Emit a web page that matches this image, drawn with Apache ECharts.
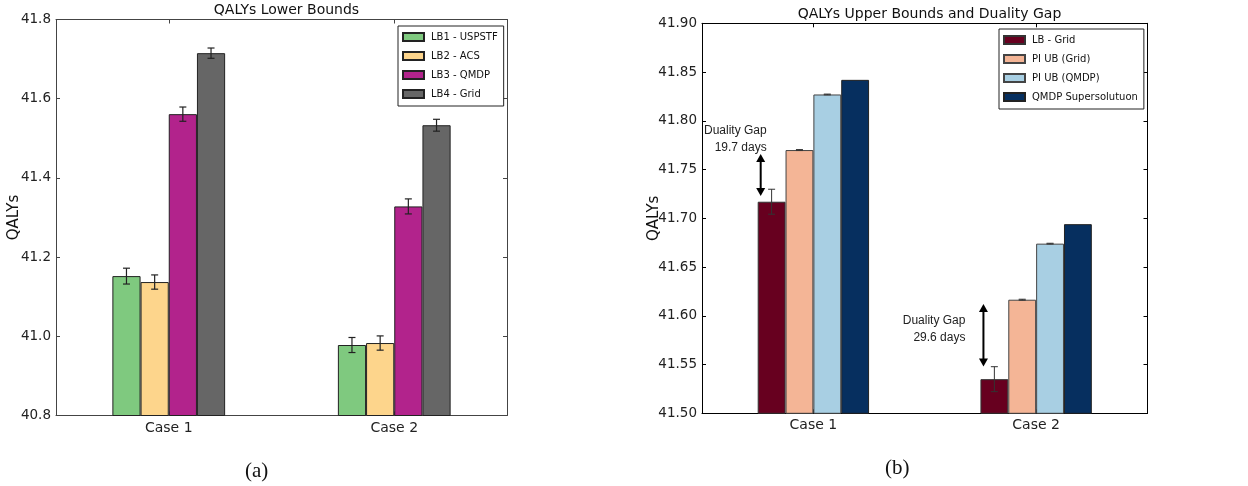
<!DOCTYPE html>
<html>
<head>
<meta charset="utf-8">
<title>QALYs bounds</title>
<script src="https://cdn.jsdelivr.net/npm/echarts@6/dist/echarts.min.js"></script>
<style>
  html, body { margin: 0; padding: 0; background: #fff; }
  #chart { width: 1248px; height: 486px; }
</style>
</head>
<body>
<div id="chart"></div>
<script>
// categories
const cases = ['Case 1', 'Case 2']

// (a) lower bounds, with error bar half-widths
const lbNames = ['LB1 - USPSTF', 'LB2 - ACS', 'LB3 - QMDP', 'LB4 - Grid']
const lb1 = [41.152, 40.978]
const lb1Err = [0.020, 0.019]
const lb2 = [41.137, 40.983]
const lb2Err = [0.018, 0.018]
const lb3 = [41.561, 41.328]
const lb3Err = [0.018, 0.019]
const lb4 = [41.715, 41.533]
const lb4Err = [0.013, 0.015]

// (b) upper bounds
const ubNames = ['LB - Grid', 'PI UB (Grid)', 'PI UB (QMDP)', 'QMDP Supersolutuon']
const lbGrid = [41.717, 41.535]
const lbGridErr = [0.0128, 0.0128]
const piGrid = [41.770, 41.6165]
const piGridErr = [0.0005, 0.0005]
const piQmdp = [41.827, 41.674]
const piQmdpErr = [0.0004, 0.0004]
const qmdpSuper = [41.842, 41.694]

// duality gap annotations
const gapLow = [41.723, 41.548]
const gapHigh = [41.766, 41.612]
const gapTextAt = [41.782, 41.587]
const gapText = ['Duality Gap\n19.7 days', 'Duality Gap\n29.6 days']

// axis ticks
const lbTicks = { min: 40.8, max: 41.8, interval: 0.2 }
const ubTicks = { min: 41.5, max: 41.9, interval: 0.05 }

const chartInstance = echarts.init(document.getElementById('chart'), null, { renderer: 'canvas' })

const tickFont = { fontFamily: 'DejaVu Sans', fontSize: 13.5, color: '#222' }

// 4 bars per group, no gap, half of the band
function slotX (api, cat, slot) {
  const band = api.size([1, 0])[0]
  const bw = band * 0.5 / 4
  return api.coord([cat, 0])[0] + (slot - 1.5) * bw
}

function errorBars (slot, values, errs, xi, yi, color, width) {
  return {
    type: 'custom',
    xAxisIndex: xi,
    yAxisIndex: yi,
    z: 5,
    silent: true,
    data: values.map((v, i) => [i, v, errs[i]]),
    renderItem (params, api) {
      const c = api.value(0)
      const v = api.value(1)
      const e = api.value(2)
      const x = slotX(api, c, slot)
      const yt = api.coord([c, v + e])[1]
      const yb = api.coord([c, v - e])[1]
      const style = { stroke: color, lineWidth: width }
      return {
        type: 'group',
        children: [
          { type: 'line', shape: { x1: x, y1: yt, x2: x, y2: yb }, style },
          { type: 'line', shape: { x1: x - 3.5, y1: yt, x2: x + 3.5, y2: yt }, style },
          { type: 'line', shape: { x1: x - 3.5, y1: yb, x2: x + 3.5, y2: yb }, style }
        ]
      }
    }
  }
}

function bars (name, values, color, border, xi, yi) {
  return {
    name,
    type: 'bar',
    xAxisIndex: xi,
    yAxisIndex: yi,
    data: values,
    barGap: '0%',
    barCategoryGap: '50%',
    itemStyle: { color, borderColor: border, borderWidth: 1 },
    emphasis: { disabled: true }
  }
}

// double headed arrows plus the "Duality Gap" text
const gapSeries = {
  type: 'custom',
  xAxisIndex: 2,
  yAxisIndex: 2,
  z: 6,
  silent: true,
  data: cases.map((c, i) => [i, gapLow[i], gapHigh[i], gapTextAt[i]]),
  renderItem (params, api) {
    const c = api.value(0)
    const x = slotX(api, c, 0) - api.size([1, 0])[0] * 0.5 / 8 + 3
    const y1 = api.coord([c, api.value(1)])[1]
    const y2 = api.coord([c, api.value(2)])[1]
    const yt = api.coord([c, api.value(3)])[1]
    const hw = 4.5
    const hh = 8
    const textRight = params.dataIndex === 0 ? x + 6 : x - 18
    return {
      type: 'group',
      children: [
        { type: 'line', shape: { x1: x, y1: y2 + hh - 1, x2: x, y2: y1 - hh + 1 }, style: { stroke: '#000', lineWidth: 2 } },
        { type: 'polygon', shape: { points: [[x, y2], [x - hw, y2 + hh], [x + hw, y2 + hh]] }, style: { fill: '#000' } },
        { type: 'polygon', shape: { points: [[x, y1], [x - hw, y1 - hh], [x + hw, y1 - hh]] }, style: { fill: '#000' } },
        {
          type: 'text',
          x: textRight,
          y: yt + 1,
          style: {
            text: gapText[params.dataIndex],
            align: 'right',
            verticalAlign: 'middle',
            fontFamily: 'Liberation Sans',
            fontSize: 12,
            lineHeight: 17,
            fill: '#222'
          }
        }
      ]
    }
  }
}

function valueAxis (gridIndex, ticks, digits, position, lineColor, name, nameGap) {
  return {
    type: 'value',
    gridIndex,
    position,
    min: ticks.min,
    max: ticks.max,
    interval: ticks.interval,
    name: name || '',
    nameLocation: 'middle',
    nameGap,
    nameMoveOverlap: false,
    nameTextStyle: { fontFamily: 'DejaVu Sans', fontSize: 15, color: '#111' },
    axisLine: { show: true, lineStyle: { color: lineColor, width: 1 } },
    axisTick: { show: true, inside: true, length: 4, lineStyle: { color: lineColor } },
    axisLabel: {
      show: position === 'left',
      margin: 5,
      ...tickFont,
      formatter: (v) => v.toFixed(digits)
    },
    splitLine: { show: false }
  }
}

function catAxis (gridIndex, position, lineColor, margin) {
  return {
    type: 'category',
    gridIndex,
    position,
    data: cases,
    axisLine: { show: true, lineStyle: { color: lineColor, width: 1 } },
    axisTick: { show: true, inside: true, length: 4, alignWithLabel: true, lineStyle: { color: lineColor } },
    axisLabel: { show: position === 'bottom', margin, ...tickFont, fontSize: 14 }
  }
}

const legendBase = {
  orient: 'vertical',
  icon: 'rect',
  itemWidth: 21,
  itemHeight: 8,
  itemGap: 7,
  padding: [5, 6, 6, 4],
  borderColor: '#222',
  borderWidth: 1,
  backgroundColor: '#fff',
  selectedMode: false,
  textStyle: { fontFamily: 'DejaVu Sans', fontSize: 10, color: '#111', lineHeight: 12, padding: [0, 0, 0, 2] }
}

const titleFont = { fontFamily: 'DejaVu Sans', fontWeight: 'normal', fontSize: 14, color: '#111' }

const option = {
  animation: false,
  backgroundColor: '#fff',
  title: [
    { text: 'QALYs Lower Bounds', left: 281.5, textAlign: 'center', top: -2, textStyle: titleFont },
    { text: 'QALYs Upper Bounds and Duality Gap', left: 924.5, textAlign: 'center', top: 2, textStyle: titleFont }
  ],
  legend: [
    { ...legendBase, left: 398, top: 26, data: lbNames },
    { ...legendBase, left: 999, top: 29, data: ubNames }
  ],
  grid: [
    { left: 56, top: 19.5, width: 451, height: 396 },
    { left: 702, top: 23.3, width: 445.5, height: 390 }
  ],
  xAxis: [
    catAxis(0, 'bottom', '#444', 6),
    catAxis(0, 'top', '#444', 6),
    catAxis(1, 'bottom', '#000', 5),
    catAxis(1, 'top', '#000', 5)
  ],
  yAxis: [
    valueAxis(0, lbTicks, 1, 'left', '#444', 'QALYs', 34),
    valueAxis(0, lbTicks, 1, 'right', '#444'),
    valueAxis(1, ubTicks, 2, 'left', '#000', 'QALYs', 40),
    valueAxis(1, ubTicks, 2, 'right', '#000')
  ],
  series: [
    bars(lbNames[0], lb1, '#7fc97f', '#222', 0, 0),
    bars(lbNames[1], lb2, '#fdd58c', '#222', 0, 0),
    bars(lbNames[2], lb3, '#b2238c', '#222', 0, 0),
    bars(lbNames[3], lb4, '#666666', '#222', 0, 0),
    errorBars(0, lb1, lb1Err, 0, 0, '#222', 1.2),
    errorBars(1, lb2, lb2Err, 0, 0, '#222', 1.2),
    errorBars(2, lb3, lb3Err, 0, 0, '#222', 1.2),
    errorBars(3, lb4, lb4Err, 0, 0, '#222', 1.2),

    bars(ubNames[0], lbGrid, '#67001f', '#333', 2, 2),
    bars(ubNames[1], piGrid, '#f4b596', '#444', 2, 2),
    bars(ubNames[2], piQmdp, '#a8cfe3', '#444', 2, 2),
    bars(ubNames[3], qmdpSuper, '#062f5f', '#222', 2, 2),
    errorBars(0, lbGrid, lbGridErr, 2, 2, '#333', 1),
    errorBars(1, piGrid, piGridErr, 2, 2, '#333', 1),
    errorBars(2, piQmdp, piQmdpErr, 2, 2, '#333', 1),
    gapSeries
  ],
  graphic: [
    { type: 'text', left: 257 - 12, top: 461, style: { text: '(a)', fontFamily: 'Liberation Serif', fontSize: 21, fill: '#111' } },
    { type: 'text', left: 897 - 12, top: 458, style: { text: '(b)', fontFamily: 'Liberation Serif', fontSize: 21, fill: '#111' } }
  ]
}

chartInstance.setOption(option)
</script>
</body>
</html>
